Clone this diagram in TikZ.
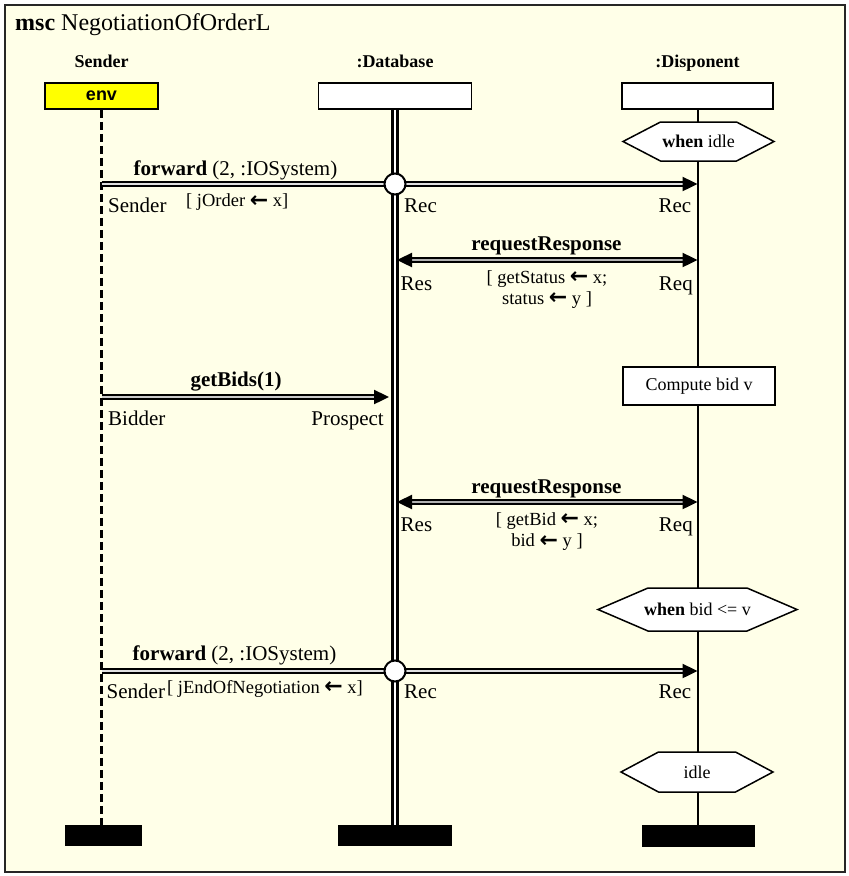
\documentclass[tikz,border=0pt]{standalone}
\usepackage{fontspec}
\setmainfont{Liberation Serif}
\newfontfamily\envfont{Liberation Sans}
\newfontfamily\arrowfont{DejaVu Sans}
\usetikzlibrary{arrows.meta}

\definecolor{paper}{RGB}{255,255,232}
\definecolor{envyellow}{RGB}{255,255,0}

% assignment arrow used in the parameter bindings
\newcommand\assignarrow{{\arrowfont\bfseries\fontsize{22}{22}\selectfont\raisebox{-0.5pt}{←}}}

\tikzset{
  fs/.style={font=\fontsize{#1}{#1}\selectfont},
  lname/.style={anchor=base, inner sep=0pt, font=\fontsize{18}{18}\selectfont\bfseries},
  headbox/.style={draw=black, line width=1.8pt, fill=white, inner sep=0pt,
                  minimum height=26pt},
  endbar/.style={fill=black, draw=none, inner sep=0pt, minimum height=21pt},
  sendline/.style={line width=2.5pt, dash pattern=on 8pt off 4pt},
  dbline/.style={line width=3pt, double=white, double distance=2.6pt},
  dpline/.style={line width=2pt},
  tip/.style={-{Triangle[length=15pt,width=14pt]}},
  fwd/.style={line width=2.4pt, double=gray!25, double distance=2pt, tip},
  bid/.style={line width=2.4pt, double=gray!40, double distance=2pt, tip},
  rr/.style={line width=2.4pt, double=gray!60, double distance=2pt,
             {Triangle[length=15pt,width=14pt]}-{Triangle[length=15pt,width=14pt]}},
  gate/.style={circle, draw=black, line width=2pt, fill=white, inner sep=0pt,
               minimum size=21pt},
  msg/.style={anchor=base, inner sep=0pt, fs=21},
  port/.style={inner sep=0pt, fs=21},
  note/.style={inner sep=0pt, fs=18.5},
  hexline/.style={draw=black, line width=1.5pt, fill=white},
  hextext/.style={inner sep=0pt, fs=18},
  action/.style={draw=black, line width=1.8pt, fill=white, inner sep=0pt, fs=18}
}

\begin{document}
\begin{tikzpicture}[x=1pt, y=-1pt]
\useasboundingbox (0,0) rectangle (849,876);

% frame and title
\draw[line width=2pt, draw=black!85, fill=paper] (5,5) rectangle (845,872);
\node[anchor=base west, inner sep=0pt, fs=24] (title) at (15,30)
  {\textbf{msc} NegotiationOfOrderL};

% instance names
\node[lname] (nS) at (101.5,67) {Sender};
\node[lname] (nD) at (395,67) {:Database};
\node[lname] (nP) at (697.5,67) {:Disponent};

% instance heads
\node[headbox, fill=envyellow, minimum width=113pt,
      font=\envfont\bfseries\fontsize{18}{18}\selectfont] (hS) at (101.5,96) {env};
\node[headbox, minimum width=153pt] (hD) at (395,96) {};
\node[headbox, minimum width=151pt] (hP) at (697.5,96) {};

% instance ends
\node[endbar, minimum width=77pt] (eS) at (103.5,835.5) {};
\node[endbar, minimum width=114pt] (eD) at (395,835.5) {};
\node[endbar, minimum width=113pt, minimum height=22pt] (eP) at (698.5,836) {};

% lifelines
\draw[sendline] (hS.south) -- (hS.south |- eS.north);
\draw[dbline] (hD.south) -- (hD.south |- eD.north);
\draw[dpline] (hP.south) -- (hP.south |- eP.north);

% condition: when idle
\draw[hexline, shift={(698.5,141.5)}]
  (-75.5,0) -- (-38,-19.5) -- (38,-19.5) -- (75.5,0) -- (38,19.5) -- (-38,19.5) -- cycle;
\node[hextext] (c1) at (698.5,141.5) {\textbf{when} idle};

% message 1: forward
\coordinate (s1) at (101.5,184);
\coordinate (p1) at (697.5,184);
\draw[fwd] (s1) -- (p1);
\node[gate] (g1) at (395,184) {};
\node[msg] (m1) at (235.5,175) {\textbf{forward} (2, :IOSystem)};
\node[port, anchor=base west] (m1a) at (108,212) {Sender};
\node[note, anchor=base west] (m1n) at (186,206.5) {[ jOrder \assignarrow{} x]};
\node[port, anchor=base west] (m1b) at (404,212) {Rec};
\node[port, anchor=base east] (m1c) at (691.5,212) {Rec};

% message 2: requestResponse
\coordinate (d2) at (397,260);
\coordinate (p2) at (697.5,260);
\draw[rr] (d2) -- (p2);
\node[msg, font=\fontsize{21}{21}\selectfont\bfseries] (m2) at (546.5,250.5) {requestResponse};
\node[port, anchor=base west] (m2a) at (400.5,290) {Res};
\node[port, anchor=base east] (m2b) at (693,290) {Req};
\node[note, anchor=base] (m2n) at (547,283) {[ getStatus \assignarrow{} x;};
\node[note, anchor=base] (m2o) at (547,304) {status \assignarrow{} y ]};

% action: compute bid
\node[action, minimum width=152pt, minimum height=38pt] (act) at (699,386) {Compute bid v};

% message 3: getBids
\coordinate (s3) at (101.5,397);
\coordinate (d3) at (389,397);
\draw[bid] (s3) -- (d3);
\node[msg, font=\fontsize{21}{21}\selectfont\bfseries] (m3) at (236,386.5) {getBids(1)};
\node[port, anchor=base west] (m3a) at (108,425) {Bidder};
\node[port, anchor=base east] (m3b) at (384,425) {Prospect};

% message 4: requestResponse
\coordinate (d4) at (397,502);
\coordinate (p4) at (697.5,502);
\draw[rr] (d4) -- (p4);
\node[msg, font=\fontsize{21}{21}\selectfont\bfseries] (m4) at (546.5,493) {requestResponse};
\node[port, anchor=base west] (m4a) at (400.5,531.5) {Res};
\node[port, anchor=base east] (m4b) at (693,531.5) {Req};
\node[note, anchor=base] (m4n) at (547,525) {[ getBid \assignarrow{} x;};
\node[note, anchor=base] (m4o) at (547,546.5) {bid \assignarrow{} y ]};

% condition: when bid <= v
\draw[hexline, shift={(697.5,609.5)}]
  (-99.5,0) -- (-49.5,-21.5) -- (49.5,-21.5) -- (99.5,0) -- (49.5,21.5) -- (-49.5,21.5) -- cycle;
\node[hextext] (c2) at (697.5,609.5) {\textbf{when} bid <= v};

% message 5: forward
\coordinate (s5) at (101.5,671);
\coordinate (p5) at (697.5,671);
\draw[fwd] (s5) -- (p5);
\node[gate] (g5) at (395,671) {};
\node[msg] (m5) at (234.5,660.5) {\textbf{forward} (2, :IOSystem)};
\node[port, anchor=base west] (m5a) at (106.5,698) {Sender};
\node[note, anchor=base west] (m5n) at (167,693) {[ jEndOfNegotiation \assignarrow{} x]};
\node[port, anchor=base west] (m5b) at (404,698) {Rec};
\node[port, anchor=base east] (m5c) at (691.5,698) {Rec};

% condition: idle
\draw[hexline, shift={(697,772)}]
  (-76,0) -- (-38.5,-20) -- (38.5,-20) -- (76,0) -- (38.5,20) -- (-38.5,20) -- cycle;
\node[hextext] (c3) at (697,772) {idle};
\end{tikzpicture}
\end{document}
